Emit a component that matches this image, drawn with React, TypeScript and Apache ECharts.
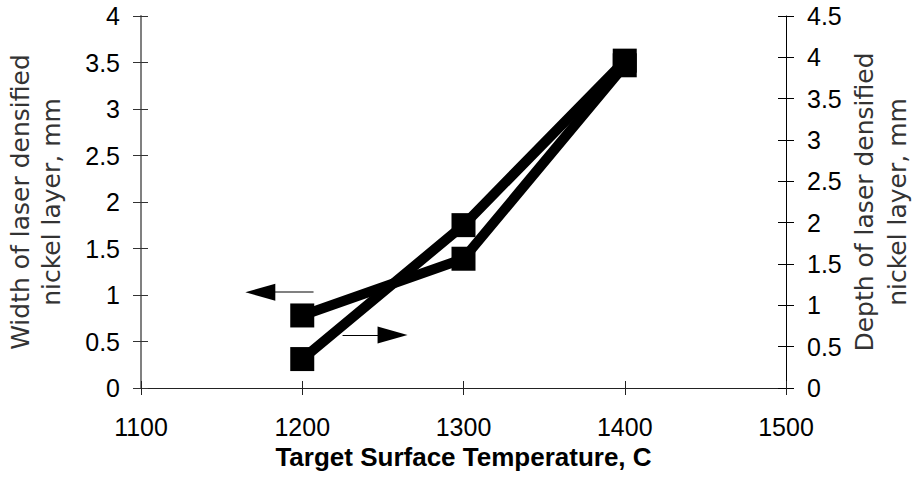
import React, { useEffect, useRef } from 'react';
import * as echarts from 'echarts';

// ---- data ----
const temperatures = [1200, 1300, 1400];
const widthMm = [0.78, 1.39, 3.47]; // left axis
const depthMm = [0.35, 1.97, 3.96]; // right axis

// annotation arrows (data coordinates): tail -> head centre
const widthArrowTail = [1207, 1.03];
const widthArrowHead = [1174, 1.03];
const depthArrowTail = [1225, 0.64];
const depthArrowHead = [1256, 0.64];

const xRange = [1100, 1500, 100];
const leftRange = [0, 4, 0.5];
const rightRange = [0, 4.5, 0.5];

const xTitle = 'Target Surface Temperature, C';
const leftTitle = 'Width of laser densified\nnickel layer, mm';
const rightTitle = 'Depth of laser densified\nnickel layer, mm';

const SANS = '"Liberation Sans", Arial, sans-serif';
const TITLE_FONT = '"DejaVu Sans", "Liberation Sans", Arial, sans-serif';

export default function App() {
  const ref = useRef<HTMLDivElement>(null);
  useEffect(() => {
    const chart = echarts.init(ref.current as HTMLDivElement, null, { renderer: 'svg' });

    const tickLabel = {
      fontSize: 25,
      color: '#000',
      fontFamily: SANS,
      showMinLabel: true,
      showMaxLabel: true,
      formatter: (v: number) => String(v),
    };

    const xBase = { type: 'value', position: 'bottom', min: xRange[0], max: xRange[1], interval: xRange[2], splitLine: { show: false } };
    const lBase = { type: 'value', position: 'left', min: leftRange[0], max: leftRange[1], interval: leftRange[2], splitLine: { show: false } };
    const rBase = { type: 'value', position: 'right', min: rightRange[0], max: rightRange[1], interval: rightRange[2], splitLine: { show: false } };

    const option: any = {
      animation: false,
      backgroundColor: '#fff',
      grid: { left: 141, right: 133, top: 16, bottom: 91, containLabel: false, outerBoundsMode: 'none' },
      xAxis: [
        {
          ...xBase,
          axisLine: { show: true, lineStyle: { color: '#222', width: 1 } },
          axisTick: { show: true, inside: false, length: 7, lineStyle: { color: '#222' } },
          axisLabel: { ...tickLabel, margin: 26 },
          name: xTitle,
          nameLocation: 'middle',
          nameGap: 56,
          nameMoveOverlap: false,
          nameTextStyle: { fontSize: 26, fontWeight: 'bold', color: '#000', fontFamily: SANS },
        },
        {
          ...xBase,
          axisLine: { show: false },
          axisTick: { show: true, inside: true, length: 7, lineStyle: { color: '#222' } },
          axisLabel: { show: false },
        },
      ],
      yAxis: [
        {
          ...lBase,
          axisLine: { show: true, lineStyle: { color: '#808080', width: 2 } },
          axisTick: { show: true, inside: false, length: 8, lineStyle: { color: '#333' } },
          axisLabel: { ...tickLabel, margin: 21 },
          name: leftTitle,
          nameLocation: 'middle',
          nameRotate: 90,
          nameGap: 74,
          nameMoveOverlap: false,
          nameTextStyle: { fontSize: 25, lineHeight: 31, color: '#333', fontFamily: TITLE_FONT, align: 'center' },
        },
        {
          ...lBase,
          axisLine: { show: false },
          axisTick: { show: true, inside: true, length: 7, lineStyle: { color: '#333' } },
          axisLabel: { show: false },
        },
        {
          ...rBase,
          axisLine: { show: true, lineStyle: { color: '#000', width: 1 } },
          axisTick: { show: true, inside: false, length: 8, lineStyle: { color: '#000' } },
          axisLabel: { ...tickLabel, margin: 21 },
          name: rightTitle,
          nameLocation: 'middle',
          nameRotate: 90,
          nameGap: 62,
          nameMoveOverlap: false,
          nameTextStyle: { fontSize: 25, lineHeight: 33, color: '#333', fontFamily: TITLE_FONT, align: 'center' },
        },
        {
          ...rBase,
          axisLine: { show: false },
          axisTick: { show: true, inside: true, length: 8, lineStyle: { color: '#000' } },
          axisLabel: { show: false },
        },
      ],
      series: [
        {
          name: 'Width',
          type: 'line',
          xAxisIndex: 0,
          yAxisIndex: 0,
          data: temperatures.map((t, i) => [t, widthMm[i]]),
          symbol: 'rect',
          symbolSize: 24,
          itemStyle: { color: '#000' },
          lineStyle: { color: '#000', width: 10 },
          z: 3,
          markLine: {
            silent: true,
            animation: false,
            label: { show: false },
            emphasis: { disabled: true },
            data: [
              [
                { coord: widthArrowTail, symbol: 'none', lineStyle: { color: '#808080', width: 2, type: 'solid' } },
                { coord: widthArrowHead, symbol: 'none' },
              ],
              [
                { coord: [widthArrowHead[0] + 4, widthArrowHead[1]], symbol: 'none', lineStyle: { color: '#000', width: 1, type: 'solid' } },
                { coord: widthArrowHead, symbol: 'triangle', symbolSize: [17, 30] },
              ],
            ],
          },
        },
        {
          name: 'Depth',
          type: 'line',
          xAxisIndex: 0,
          yAxisIndex: 2,
          data: temperatures.map((t, i) => [t, depthMm[i]]),
          symbol: 'rect',
          symbolSize: 24,
          itemStyle: { color: '#000' },
          lineStyle: { color: '#000', width: 10 },
          z: 3,
          markLine: {
            silent: true,
            animation: false,
            label: { show: false },
            emphasis: { disabled: true },
            data: [
              [
                { coord: depthArrowTail, symbol: 'none', lineStyle: { color: '#000', width: 1, type: 'solid' } },
                { coord: depthArrowHead, symbol: 'triangle', symbolSize: [17, 30] },
              ],
            ],
          },
        },
      ],
    };
    chart.setOption(option);
    return () => chart.dispose();
  }, []);
  return (
    <div
      ref={ref}
      style={{ position: 'fixed', left: 0, top: 0, width: 919, height: 479, background: '#fff' }}
    />
  );
}
